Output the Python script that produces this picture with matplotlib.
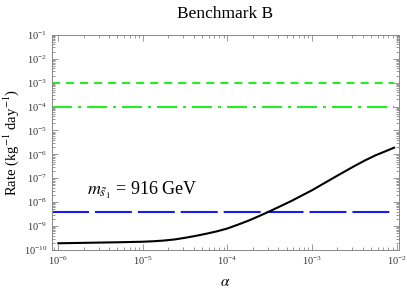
import numpy as np
import matplotlib
matplotlib.use("Agg")
import matplotlib.pyplot as plt
from matplotlib.ticker import LogLocator, NullFormatter

plt.rcParams['font.family'] = ['Liberation Serif', 'DejaVu Serif']
plt.rcParams['mathtext.fontset'] = 'stix'
plt.rcParams['lines.scale_dashes'] = False

# curve (log10 values)
log_alpha = [-6.0, -5.5, -5.25, -5.0, -4.875, -4.75, -4.625, -4.5, -4.375, -4.25,
             -4.125, -4.0, -3.875, -3.75, -3.625, -3.5, -3.375, -3.25, -3.125,
             -3.0, -2.875, -2.75, -2.625, -2.5, -2.375, -2.25, -2.125, -2.03]
log_rate = [-9.72, -9.69, -9.675, -9.655, -9.635, -9.605, -9.56, -9.49, -9.41, -9.32,
            -9.22, -9.10, -8.94, -8.77, -8.58, -8.38, -8.17, -7.96, -7.73,
            -7.50, -7.245, -6.99, -6.74, -6.49, -6.255, -6.04, -5.86, -5.72]

# horizontal lines
green_dashed = 1e-3
green_dashdot = 1e-4
blue_longdash = 3.7e-9
line_x = [10**-6.074, 9.3e-3]

alpha = 10.0 ** np.array(log_alpha)
rate = 10.0 ** np.array(log_rate)

fig = plt.figure(figsize=(4.07, 2.91), dpi=100)
ax = fig.add_axes([0.128, 0.141, 0.852, 0.739])

ax.plot(line_x, [green_dashed] * 2, color='#22ee22', lw=1.5, dashes=(5.8, 4.3))
ax.plot(line_x, [green_dashdot] * 2, color='#22ee22', lw=1.5,
        dashes=(14.4, 4.3, 2.2, 4.3))
ax.plot(line_x, [blue_longdash] * 2, color='#1a1aee', lw=1.5, dashes=(26.6, 4.3))
ax.plot(alpha, rate, color='black', lw=1.5)

ax.set_xscale('log')
ax.set_yscale('log')
ax.set_xlim(10**-6.074, 10**-1.973)
ax.set_ylim(1e-10, 1e-1)

ax.xaxis.set_major_locator(LogLocator(base=10, numticks=20))
ax.yaxis.set_major_locator(LogLocator(base=10, numticks=20))
ax.xaxis.set_minor_locator(LogLocator(base=10, subs=np.arange(2, 10), numticks=20))
ax.yaxis.set_minor_locator(LogLocator(base=10, subs=np.arange(2, 10), numticks=20))
ax.xaxis.set_minor_formatter(NullFormatter())
ax.yaxis.set_minor_formatter(NullFormatter())

ax.tick_params(which='both', direction='in', top=True, right=True,
               colors='#888888', labelcolor='#333333', labelsize=7.5, width=0.6)
ax.tick_params(which='major', length=4)
ax.tick_params(which='minor', length=2)
for s in ax.spines.values():
    s.set_color('#888888')
    s.set_linewidth(0.7)

ax.set_title('Benchmark B', fontsize=12.5, pad=12)
ax.set_xlabel(r'$\alpha$', fontsize=11, labelpad=6)
ax.set_ylabel(r'Rate (kg$^{-1}$ day$^{-1}$)', fontsize=10.5, labelpad=2)
ax.text(10**-5.66, 10**-7.7, r'$m_{\tilde{s}_1}$ = 916 GeV', fontsize=13)

fig.savefig('out.png', dpi=100)
